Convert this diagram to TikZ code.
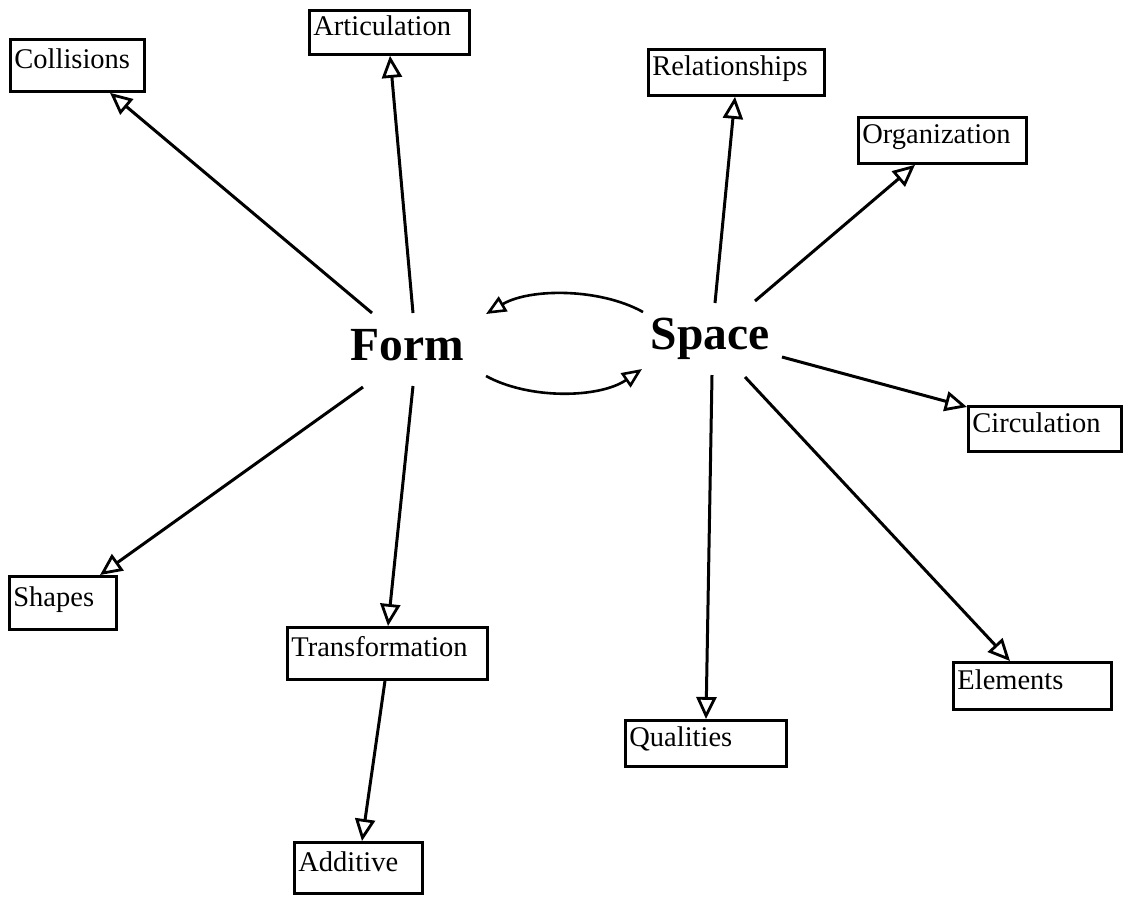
\documentclass[tikz,border=0pt]{standalone}
\usepackage{fontspec}
\setmainfont{Liberation Serif}
\usetikzlibrary{arrows.meta}

\tikzset{
  topic/.style 2 args={draw, line width=2.8pt, anchor=north west,
    inner xsep=4pt, inner ysep=0pt, align=left,
    font=\fontsize{28.5}{32}\selectfont, text height=0.82em, text depth=0.12em,
    text width=#1, minimum height=#2},
  hub/.style={inner sep=0pt, anchor=base, font=\fontsize{47.5}{54}\selectfont\bfseries},
  conn/.style={line width=3pt, -{Triangle[open, length=22pt, width=20pt, line width=2.8pt]}},
  swap/.style={line width=2.6pt, -{Triangle[open, length=20pt, width=17pt, line width=2.6pt]}}
}

\begin{document}
\begin{tikzpicture}[x=1pt, y=-1pt]
  \fill[white] (0,0) rectangle (1131,898);
  \useasboundingbox (0,0) rectangle (1131,898);

  % the two central ideas
  \node[hub] (form)  at (407,360) {Form};
  \node[hub] (space) at (710,349) {Space};

  % topics around Form
  \node[topic={126pt}{52pt}] (coll)   at (9,38)    {Collisions};
  \node[topic={152pt}{44pt}] (artic)  at (308,9)   {Articulation};
  \node[topic={99pt}{53pt}]  (shapes) at (8,575)   {Shapes};
  \node[topic={192pt}{52pt}] (trans)  at (286,626) {Transformation};
  \node[topic={120pt}{51pt}] (add)    at (293,841) {Additive};

  % topics around Space
  \node[topic={168pt}{46pt}] (rel)    at (647,48)  {Relationships};
  \node[topic={160pt}{46pt}] (org)    at (857,116) {Organization};
  \node[topic={145pt}{45pt}] (circ)   at (967,405) {Circulation};
  \node[topic={150pt}{47pt}] (elem)   at (952,661) {Elements};
  \node[topic={153pt}{46pt}] (qual)   at (624,719) {Qualities};

  % loose ends of the spokes, just off the central words
  \coordinate (f1) at (372,313);
  \coordinate (f2) at (413,313);
  \coordinate (f3) at (363,387);
  \coordinate (f4) at (413,386);
  \coordinate (s1) at (715,303);
  \coordinate (s2) at (755,301);
  \coordinate (s3) at (782,357);
  \coordinate (s4) at (712,375);
  \coordinate (s5) at (745,377);

  % spokes from Form
  \draw[conn] (f1) -- ([xshift=101pt]coll.south west);
  \draw[conn] (f2) -- ([xshift=82pt]artic.south west);
  \draw[conn] (f3) -- ([xshift=92pt]shapes.north west);
  \draw[conn] (f4) -- ([xshift=102pt]trans.north west);
  \draw[conn] ([xshift=99pt]trans.south west) -- ([xshift=69pt]add.north west);

  % spokes from Space
  \draw[conn] (s1) -- ([xshift=88pt]rel.south west);
  \draw[conn] (s2) -- ([xshift=58pt]org.south west);
  \draw[conn] (s3) -- ([yshift=-2pt]circ.north west);
  \draw[conn] (s4) -- ([xshift=82pt]qual.north west);
  \draw[conn] (s5) -- ([xshift=58pt]elem.north west);

  % exchange between Form and Space
  \coordinate (sa) at (643,312);
  \coordinate (fa) at (486,314);
  \coordinate (fb) at (486,376);
  \coordinate (sb) at (642,369);
  \draw[swap] (sa) .. controls (600,288) and (530,288) .. (fa);
  \draw[swap] (fb) .. controls (530,400) and (600,398) .. (sb);
\end{tikzpicture}
\end{document}
